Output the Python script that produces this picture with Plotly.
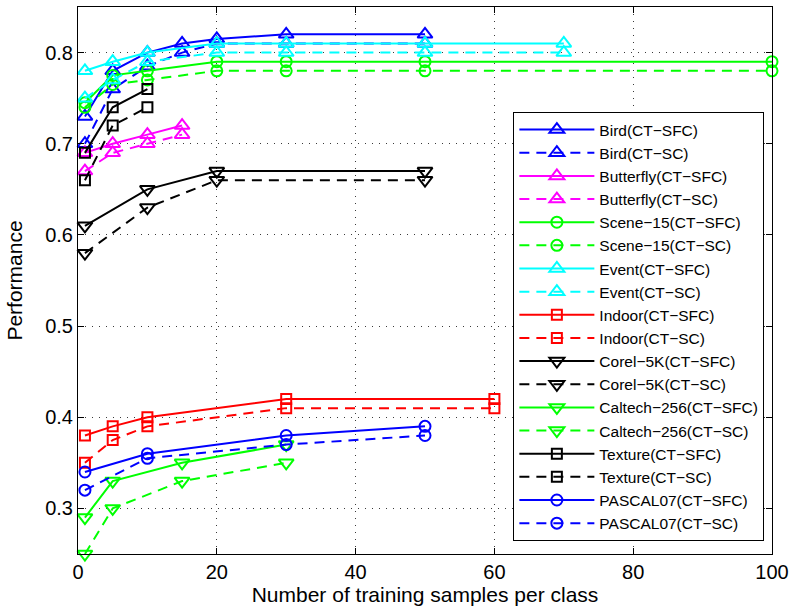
import plotly.graph_objects as go

# ---------------- data ----------------
bird_x = [1, 5, 10, 15, 20, 30, 50]
bird_sfc = [0.73, 0.78, 0.80, 0.81, 0.815, 0.82, 0.82]
bird_sc = [0.70, 0.76, 0.785, 0.80, 0.81, 0.81, 0.81]

butterfly_x = [1, 5, 10, 15]
butterfly_sfc = [0.69, 0.70, 0.71, 0.72]
butterfly_sc = [0.67, 0.69, 0.70, 0.71]

scene_x = [1, 5, 10, 20, 30, 50, 100]
scene_sfc = [0.745, 0.775, 0.78, 0.79, 0.79, 0.79, 0.79]
scene_sc = [0.74, 0.765, 0.77, 0.78, 0.78, 0.78, 0.78]

event_x = [1, 5, 10, 20, 30, 50, 70]
event_sfc = [0.78, 0.79, 0.80, 0.81, 0.81, 0.81, 0.81]
event_sc = [0.75, 0.77, 0.79, 0.80, 0.80, 0.80, 0.80]

indoor_x = [1, 5, 10, 30, 60]
indoor_sfc = [0.38, 0.39, 0.40, 0.42, 0.42]
indoor_sc = [0.35, 0.375, 0.39, 0.41, 0.41]

corel_x = [1, 10, 20, 50]
corel_sfc = [0.61, 0.65, 0.67, 0.67]
corel_sc = [0.58, 0.63, 0.66, 0.66]

caltech_x = [1, 5, 15, 30]
caltech_sfc = [0.29, 0.33, 0.35, 0.37]
caltech_sc = [0.25, 0.30, 0.33, 0.35]

texture_x = [1, 5, 10]
texture_sfc = [0.69, 0.74, 0.76]
texture_sc = [0.66, 0.72, 0.74]

pascal_x = [1, 10, 30, 50]
pascal_sfc = [0.34, 0.36, 0.38, 0.39]
pascal_sc = [0.32, 0.355, 0.37, 0.38]

x_ticks = [0, 20, 40, 60, 80, 100]
y_ticks = [0.3, 0.4, 0.5, 0.6, 0.7, 0.8]

series = [
    ("Bird", bird_x, bird_sfc, bird_sc, "#0000FF", "triangle-up-open"),
    ("Butterfly", butterfly_x, butterfly_sfc, butterfly_sc, "#FF00FF", "triangle-up-open"),
    ("Scene\u221215", scene_x, scene_sfc, scene_sc, "#00FF00", "circle-open"),
    ("Event", event_x, event_sfc, event_sc, "#00FFFF", "triangle-up-open"),
    ("Indoor", indoor_x, indoor_sfc, indoor_sc, "#FF0000", "square-open"),
    ("Corel\u22125K", corel_x, corel_sfc, corel_sc, "#000000", "triangle-down-open"),
    ("Caltech\u2212256", caltech_x, caltech_sfc, caltech_sc, "#00FF00", "triangle-down-open"),
    ("Texture", texture_x, texture_sfc, texture_sc, "#000000", "square-open"),
    ("PASCAL07", pascal_x, pascal_sfc, pascal_sc, "#0000FF", "circle-open"),
]

FONT = "Liberation Sans, Arial, Helvetica, sans-serif"

fig = go.Figure()
for name, xs, sfc, sc, color, sym in series:
    for suffix, ys, dash in (("(CT\u2212SFC)", sfc, "solid"), ("(CT\u2212SC)", sc, "10px,7px")):
        msize = 11 if "circle" in sym else (10 if "square" in sym else 13)
        fig.add_trace(go.Scatter(
            x=xs, y=ys, name=name + suffix, mode="lines+markers",
            line=dict(color=color, width=2, dash=dash),
            marker=dict(symbol=sym, size=msize, color=color, line=dict(color=color, width=2)),
            cliponaxis=False,
        ))

axis_common = dict(
    showline=True, linecolor="black", linewidth=1, mirror="ticks",
    ticks="inside", ticklen=6, tickcolor="black", tickwidth=1,
    showgrid=True, gridcolor="#3a3a3a", gridwidth=1, griddash="1px,6px",
    zeroline=False, automargin=False,
    tickfont=dict(family=FONT, size=20, color="black"),
)

fig.update_layout(
    width=790, height=612,
    margin=dict(l=78, r=18, t=7, b=58),
    paper_bgcolor="white", plot_bgcolor="white",
    font=dict(family=FONT, color="black"),
    xaxis=dict(range=[0, 100], tickvals=x_ticks, ticktext=[str(v) for v in x_ticks],
               title=dict(text="Number of training samples per class",
                          font=dict(family=FONT, size=21, color="black"), standoff=4),
               **axis_common),
    yaxis=dict(range=[0.25, 0.85], tickvals=y_ticks, ticktext=[f"{v:.1f}" for v in y_ticks],
               title=dict(text="Performance", font=dict(family=FONT, size=21, color="black"),
                          standoff=16),
               **axis_common),
    legend=dict(
        x=0.989, y=0.808, xanchor="right", yanchor="top",
        bgcolor="white", bordercolor="black", borderwidth=1,
        font=dict(family=FONT, size=15.5, color="black"),
        itemwidth=75, tracegroupgap=0,
    ),
    showlegend=True,
)

fig.write_html("out.html",
               config={"displayModeBar": False},
               post_script="document.body.style.margin='0';document.body.style.overflow='hidden';")
